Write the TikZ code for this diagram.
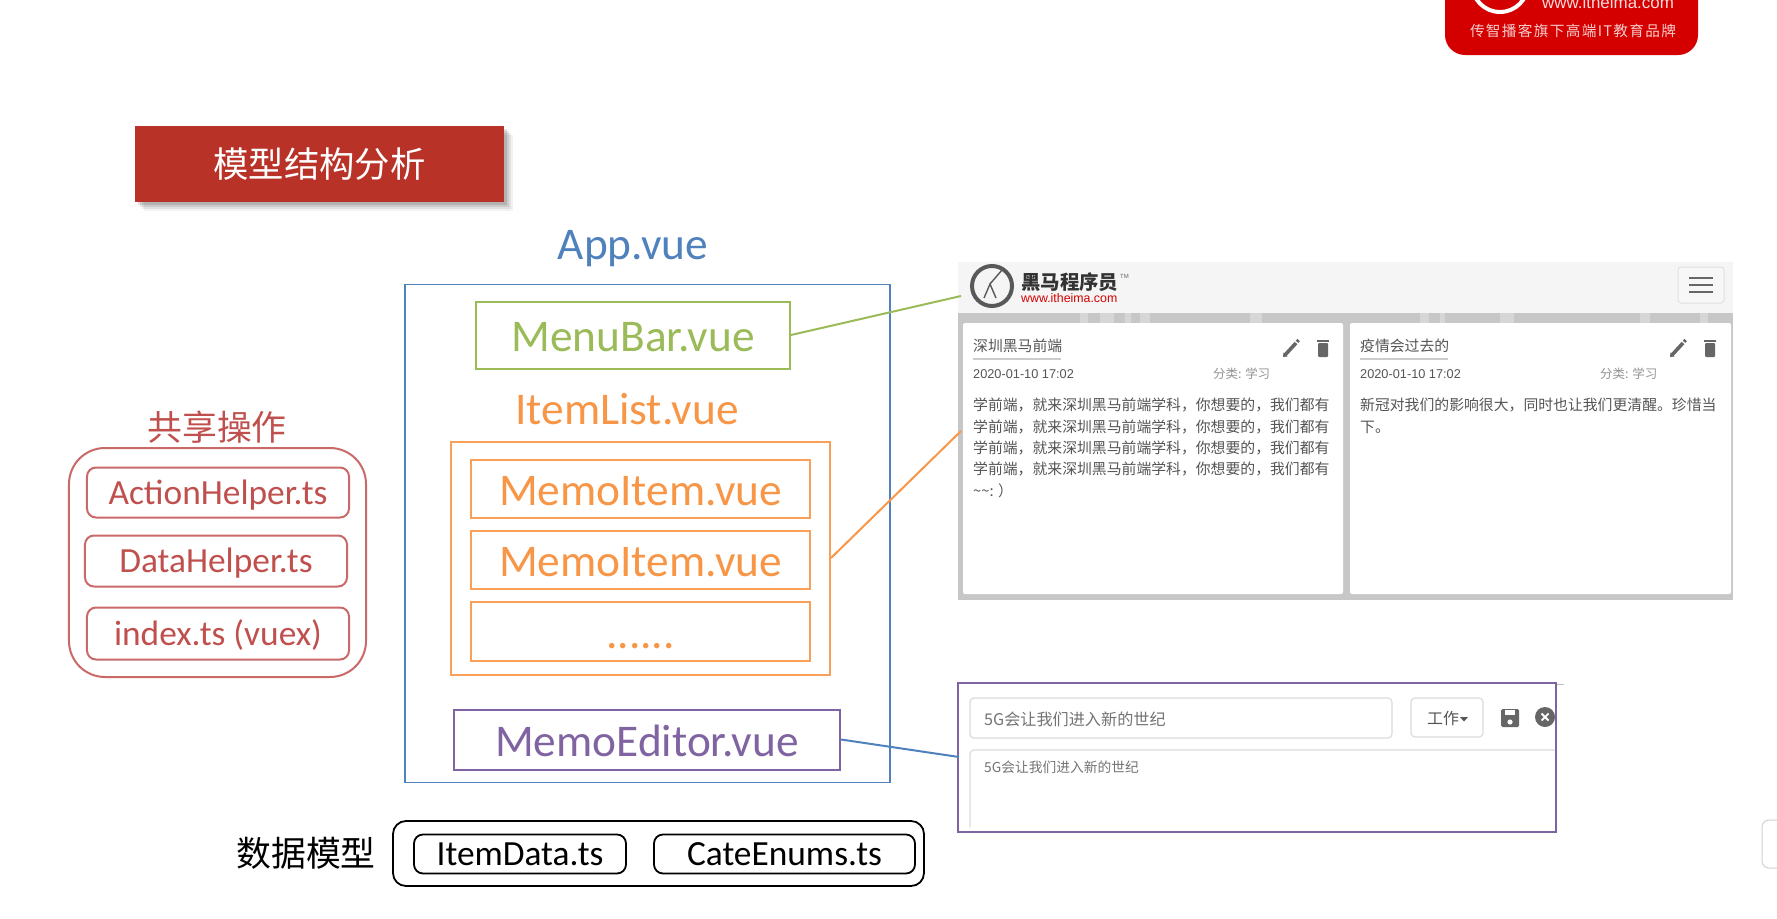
\documentclass[tikz,border=0pt]{standalone}
\usepackage{fontspec}
\setmainfont{Carlito}
\newfontfamily\cjk{Noto Sans CJK SC}
\newfontfamily\cjkspaced[LetterSpace=9]{Noto Sans CJK SC}
\newfontfamily\lib{Liberation Sans}
\newcommand\fsz[1]{\fontsize{#1}{#1}\selectfont}
\definecolor{blueC}{HTML}{4F81BD}
\definecolor{greenC}{HTML}{9BBB59}
\definecolor{orangeC}{HTML}{F79646}
\definecolor{purpleC}{HTML}{8064A2}
\definecolor{redC}{HTML}{C0504D}
\definecolor{titleC}{HTML}{B83227}
\definecolor{logoC}{HTML}{D40000}
\definecolor{uiText}{HTML}{555555}
\definecolor{uiIcon}{HTML}{666666}
\tikzset{
  x=1bp,y=-1bp,
  sized/.style args={#1x#2}{minimum width=#1bp,minimum height=#2bp,inner sep=0pt},
  fileLarge/.style={font=\fsz{45.5},text height=33bp,text depth=0bp},
  fileSmall/.style={font=\fsz{35.5},text height=23bp,text depth=0bp},
  appbox/.style={draw=blueC,line width=1.8bp},
  greenbox/.style={draw=greenC,line width=2bp,text=greenC,fileLarge},
  orangebox/.style={draw=orangeC!90,line width=2bp,text=orangeC,fileLarge},
  purplebox/.style={draw=purpleC,line width=2bp,text=purpleC,fileLarge},
  redbox/.style={draw=redC!85,line width=2bp,rounded corners=9bp,text=redC,fileSmall},
  blackbox/.style={draw=black,line width=1.8bp,rounded corners=9bp,fileSmall},
  card/.style={fill=white,rounded corners=2bp},
  cardtext/.style={anchor=west,inner sep=0pt,text=uiText,font=\cjk\fsz{14.9}},
  cardmeta/.style={anchor=west,inner sep=0pt,text=uiText,font=\lib\fsz{12.8}},
  cardcat/.style={anchor=west,inner sep=0pt,text=black!42,font=\cjk\fsz{12.5}},
  uibox/.style={draw=black!14,line width=1.2bp,rounded corners=4bp,fill=white},
  pencilicon/.pic={
    \draw[uiIcon,line width=3.6bp] (-6,7) -- (5,-5);
    \fill[uiIcon] (-8,9) -- (-7.5,4.5) -- (-3.5,8.5) -- cycle;
    \draw[uiIcon,line width=3.4bp] (6,-6.2) -- (7.6,-8);
  },
  trashicon/.pic={
    \fill[uiIcon,rounded corners=1bp] (-5,-5) rectangle (5,9);
    \fill[uiIcon] (-6.2,-8) rectangle (6.2,-6.2);
  }
}
\begin{document}
\begin{tikzpicture}
\useasboundingbox (0,0) rectangle (1777,918);
\fill[white] (0,0) rectangle (1777,918);

% badge at the top right
\fill[logoC,rounded corners=20bp] (1445,-30) rectangle (1698,55);
\begin{scope}
\clip (0,0) rectangle (1777,918);
\draw[white,line width=4bp] (1500,-16) circle[radius=28];
\node[inner sep=0pt,text=white!85!logoC,font=\lib\fsz{17}] (badgeurl) at (1608,2) {www.itheima.com};
\end{scope}
\node[inner sep=0pt,text=white!80!logoC,font=\cjkspaced\fsz{14.7}] (badgetext) at (1573,31) {传智播客旗下高端IT教育品牌};

% title with soft shadow
\foreach \s/\o in {9/.05,7/.07,5/.09,3/.12}
  \fill[black,opacity=\o] (135+\s,126+\s) rectangle (504+\s,202+\s);
\node[fill=titleC,sized=369x76,text=white,font=\cjk\fsz{35.5}] (title) at (319.5,164) {\raisebox{-2bp}{模型结构分析}};

% App
\node[text=blueC,inner sep=0pt,fileLarge] (applabel) at (633,243) {App.vue};
\node[appbox,sized=485x498] (app) at (647.5,533.5) {};
\node[greenbox,sized=314x67] (menubar) at (633,335) {MenuBar.vue};
\node[text=orangeC,inner sep=0pt,fileLarge] (itemlabel) at (627,407.5) {ItemList.vue};
\node[draw=orangeC!90,line width=2bp,sized=379x233] (itemlist) at (640.5,558) {};
\node[orangebox,sized=339x58] (memo1) at (640.5,488.5) {MemoItem.vue};
\node[orangebox,sized=339x58] (memo2) at (640.5,559.5) {MemoItem.vue};
\node[orangebox,sized=339x59] (memo3) at (640.5,631.5) {......};
\node[purplebox,sized=386x60] (editor) at (647,739.5) {MemoEditor.vue};

% shared operations
\node[text=redC,inner sep=0pt,font=\cjk\fsz{35}] (sharedlabel) at (217,427) {共享操作};
\node[draw=redC!85,line width=2bp,rounded corners=36bp,sized=297x229] (shared) at (217.5,562.5) {};
\node[redbox,sized=262x50] (action) at (218,492.5) {ActionHelper.ts};
\node[redbox,sized=262x51] (datahelper) at (216,561) {DataHelper.ts};
\node[redbox,sized=262x52] (index) at (218,633.5) {index.ts (vuex)};

% data model
\node[inner sep=0pt,font=\cjk\fsz{35}] (modellabel) at (306,853) {数据模型};
\node[blackbox,sized=531x65,rounded corners=13bp] (model) at (658.5,853.5) {};
\node[blackbox,sized=212x39] (itemdata) at (520,854) {ItemData.ts};
\node[blackbox,sized=261x39] (cateenums) at (784.5,854) {CateEnums.ts};

% screenshot: list
\fill[black!4] (958,262) rectangle (1733,313);
\node[fill=black!22,sized=775x287] (panel) at (1345.5,456.5) {};
\foreach \xx/\ww in {1080/8,1100/14,1125/6,1140/10,1250/12,1420/9,1440/5,1500/14,1640/10,1700/8}
  \fill[white,opacity=.28] (\xx,313) rectangle (\xx+\ww,323);
\node[card,sized=380x271] (card1) at (1153,458.5) {};
\node[card,sized=381x271] (card2) at (1540.5,458.5) {};
\draw[black!65,line width=4bp] (992,286) circle[radius=20];
\draw[black!65,line width=1.4bp] (984,298) -- (990,284) -- (996,298) (990,284) -- (1002,270);
\node[inner sep=0pt,text=black!80,font=\cjk\bfseries\fsz{19.5},anchor=west] (logo) at (1021,282) {黑马程序员};
\node[inner sep=0pt,text=black!60,font=\lib\fsz{6},anchor=west] (logotm) at (1120,276) {TM};
\node[inner sep=0pt,text=logoC,font=\lib\fsz{12.4},anchor=west] (logourl) at (1021,298) {www.itheima.com};
\node[draw=black!12,line width=1bp,rounded corners=3bp,fill=black!3,sized=46x36] (menubtn) at (1701,285) {};
\foreach \yy in {278,285,292}
  \draw[uiIcon,line width=2.2bp] (1689,\yy) -- (1713,\yy);

% card 1
\node[cardtext] (c1title) at (973,346) {深圳黑马前端};
\draw[black!20,line width=1.2bp] (973,359) -- (1061,359);
\pic at (1291,348) {pencilicon};
\pic at (1323,348) {trashicon};
\node[cardmeta] (c1date) at (973,374) {2020-01-10 17:02};
\node[cardcat] (c1cat) at (1213,374) {分类: 学习};
\node[cardtext] (c1l1) at (973,405) {学前端，就来深圳黑马前端学科，你想要的，我们都有};
\node[cardtext] (c1l2) at (973,427) {学前端，就来深圳黑马前端学科，你想要的，我们都有};
\node[cardtext] (c1l3) at (973,448) {学前端，就来深圳黑马前端学科，你想要的，我们都有};
\node[cardtext] (c1l4) at (973,469) {学前端，就来深圳黑马前端学科，你想要的，我们都有};
\node[cardtext] (c1l5) at (973,491) {\textasciitilde\textasciitilde: ）};

% card 2
\node[cardtext] (c2title) at (1360,346) {疫情会过去的};
\draw[black!20,line width=1.2bp] (1360,359) -- (1448,359);
\pic at (1678,348) {pencilicon};
\pic at (1710,348) {trashicon};
\node[cardmeta] (c2date) at (1360,374) {2020-01-10 17:02};
\node[cardcat] (c2cat) at (1600,374) {分类: 学习};
\node[cardtext] (c2l1) at (1360,405) {新冠对我们的影响很大，同时也让我们更清醒。珍惜当};
\node[cardtext] (c2l2) at (1360,427) {下。};

% screenshot: editor
\draw[black!25,line width=1bp] (958,684) -- (1564,684);
\node[draw=purpleC,line width=2.2bp,fill=white,sized=598x149] (editorshot) at (1257,757.5) {};
\node[uibox,sized=422x40] (titleinput) at (1181,718) {};
\node[anchor=west,inner sep=0pt,text=black!55,font=\cjk\fsz{16.2}] (titletext) at (984,719) {5G会让我们进入新的世纪};
\node[uibox,sized=72x39] (catebtn) at (1447,717.5) {};
\node[inner sep=0pt,text=uiText,font=\cjk\fsz{16}] (catetext) at (1443,718) {工作};
\fill[uiText] (1460,717) -- (1468,717) -- (1464,721.5) -- cycle;
\fill[uiIcon,rounded corners=1.5bp] (1501,709) rectangle (1519,727);
\fill[white] (1505,709.5) rectangle (1515,715);
\fill[white] (1510,722) circle[radius=2.6];
\fill[uiIcon] (1545,717) circle[radius=10];
\draw[white,line width=1.8bp] (1541.5,713.5) -- (1548.5,720.5) (1548.5,713.5) -- (1541.5,720.5);
\draw[black!14,line width=1.2bp,rounded corners=4bp] (970,827) -- (970,750) -- (1555,750);
\node[anchor=west,inner sep=0pt,text=black!55,font=\cjk\fsz{13.8}] (areatext) at (984,767) {5G会让我们进入新的世纪};

% connectors
\coordinate (menuend) at (961,296);
\coordinate (listend) at (961,431);
\coordinate (editend) at (959,757);
\draw[greenC,line width=2bp] (menubar.east) -- (menuend);
\draw[orangeC,line width=2bp] (itemlist.east) -- (listend);
\draw[blueC,line width=2bp] (editor.east) -- (editend);

% player widget at the right edge
\fill[white] (1766,817) circle[radius=3];
\draw[black!18,line width=1bp,fill=white,rounded corners=7bp] (1790,820) -- (1762,820) -- (1762,868) -- (1790,868);
\end{tikzpicture}
\end{document}
